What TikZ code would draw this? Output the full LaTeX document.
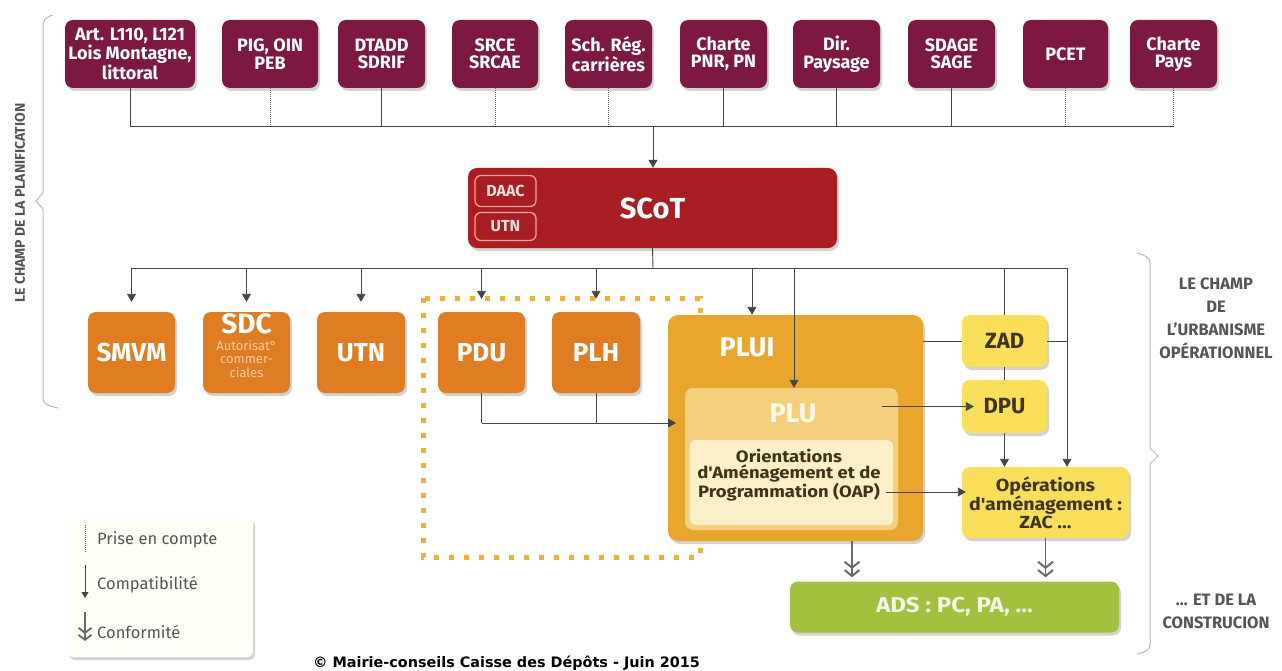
\documentclass[tikz,border=0pt]{standalone}
\usepackage{fontspec}
\setmainfont{Fira Sans}
\newfontfamily\wide[FakeStretch=1.12]{Fira Sans}
\newfontfamily\copyfont{DejaVu Sans}
\usetikzlibrary{arrows.meta,shadows,calc}
\definecolor{maroonb}{HTML}{7D1842}
\definecolor{scotc}{HTML}{A81E22}
\definecolor{orng}{HTML}{E07C22}
\definecolor{pluic}{HTML}{E8A72C}
\definecolor{pluc}{HTML}{F4CF7E}
\definecolor{oapc}{HTML}{FCF0C8}
\definecolor{yel}{HTML}{FADF5A}
\definecolor{adsc}{HTML}{A3C13E}
\definecolor{dotc}{HTML}{E8B338}
\definecolor{lin}{HTML}{454545}
\definecolor{txtg}{HTML}{555555}
\definecolor{darkt}{HTML}{3E3418}
\definecolor{pinkl}{HTML}{F2A49C}
\definecolor{sdcs}{HTML}{F9CFA6}
\tikzset{
  shad/.style={drop shadow={opacity=0.35,shadow xshift=2pt,shadow yshift=-3pt}},
  topbox/.style={shad, fill=maroonb, rounded corners=8pt, inner sep=0pt, align=center,
     text=white, minimum height=68pt, font=\bfseries\fontsize{18}{17.5}\selectfont},
  obox/.style={shad, fill=orng, rounded corners=8pt, inner sep=0pt, align=center,
     text=white, minimum height=81pt, font=\bfseries\fontsize{26}{26}\selectfont},
  ybox/.style={shad, fill=yel, rounded corners=8pt, inner sep=0pt, align=center,
     text=darkt, font=\bfseries\fontsize{22}{22}\selectfont},
  lbl/.style={inner sep=0pt, align=center},
  line/.style={draw=lin, line width=0.9pt},
  pec/.style={draw=lin!80, line width=0.9pt, dash pattern=on 1pt off 1pt},
  comp/.style={draw=lin, line width=0.9pt, -{Triangle[length=8pt,width=9pt]}},
  conf/.style={draw=lin!80, line width=1.4pt, -{Straight Barb[length=6pt,width=15pt,line width=2pt] Straight Barb[length=6pt,width=15pt,line width=2pt]}},
}
\begin{document}
\begin{tikzpicture}[x=1pt,y=-1pt]
\useasboundingbox (0,0) rectangle (1282,671);
\fill[white] (0,0) rectangle (1282,671);

% brackets
\draw[gray!55, line width=1pt] (53,15) .. controls (46,17) and (43,20) .. (43,26) -- (43,193) -- (36,201) -- (43,209) -- (43,398) .. controls (43,404) and (48,406) .. (58,408);
\draw[gray!55, line width=1pt] (1137,253) .. controls (1144,255) and (1150,257) .. (1150,263) -- (1150,448) -- (1158,456) -- (1150,464) -- (1150,645) .. controls (1150,650) and (1145,652) .. (1137,654);
\node[lbl, rotate=90, text=txtg, font=\bfseries\fontsize{14}{14}\selectfont] (lchamp) at (20,203) {LE CHAMP DE LA PLANIFICATION};
\node[lbl, text=txtg, font=\bfseries\fontsize{16.5}{23}\selectfont] (rchamp) at (1216,318) {LE CHAMP\\DE\\L'URBANISME\\OPÉRATIONNEL};
\node[lbl, text=txtg, font=\bfseries\fontsize{16.5}{23}\selectfont] (rconst) at (1216,611) {... ET DE LA\\CONSTRUCION};

% top row
\node[topbox, minimum width=130pt] (t1) at (130,54) {Art. L110, L121\\Lois Montagne,\\littoral};
\node[topbox, minimum width=96pt] (t2) at (270,54) {PIG, OIN\\PEB};
\node[topbox, minimum width=87pt] (t3) at (381.5,54) {DTADD\\SDRIF};
\node[topbox, minimum width=86pt] (t4) at (495,54) {SRCE\\SRCAE};
\node[topbox, minimum width=87pt] (t5) at (608.5,54) {Sch. Rég.\\carrières};
\node[topbox, minimum width=87pt] (t6) at (723.5,54) {Charte\\PNR, PN};
\node[topbox, minimum width=87pt] (t7) at (836.5,54) {Dir.\\Paysage};
\node[topbox, minimum width=87pt] (t8) at (951.5,54) {SDAGE\\SAGE};
\node[topbox, minimum width=85pt] (t9) at (1065.5,54) {PCET};
\node[topbox, minimum width=87pt] (t10) at (1173.5,54) {Charte\\Pays};

\coordinate (bus1) at (653,126);
\draw[line] (t1.south) -- (t1.south |- bus1) -- (t10.south |- bus1);
\draw[pec] (t2.south) -- (t2.south |- bus1);
\draw[line] (t3.south) -- (t3.south |- bus1);
\draw[pec] (t4.south) -- (t4.south |- bus1);
\draw[pec] (t5.south) -- (t5.south |- bus1);
\draw[line] (t6.south) -- (t6.south |- bus1);
\draw[line] (t7.south) -- (t7.south |- bus1);
\draw[line] (t8.south) -- (t8.south |- bus1);
\draw[pec] (t9.south) -- (t9.south |- bus1);
\draw[pec] (t10.south) -- (t10.south |- bus1);

% SCoT
\node[shad, fill=scotc, rounded corners=9pt, minimum width=369pt, minimum height=80pt, inner sep=0pt,
  text=white, font=\bfseries\fontsize{29}{29}\selectfont] (scot) at (652.5,208) {SCoT};
\draw[comp] (bus1) -- (bus1 |- scot.north);
\node[draw=pinkl, line width=1.3pt, rounded corners=6pt, minimum width=61pt, minimum height=31pt, inner sep=0pt,
  text=pinkl!35!white, font=\bfseries\fontsize{16}{16}\selectfont] (daac) at (505.5,191) {DAAC};
\node[draw=pinkl, line width=1.3pt, rounded corners=6pt, minimum width=61pt, minimum height=28pt, inner sep=0pt,
  text=pinkl!35!white, font=\bfseries\fontsize{16}{16}\selectfont] (utnin) at (505.5,226.5) {UTN};

\coordinate (bus2) at (653,268);
\coordinate (rc) at (1067,268);

% dotted frame
\draw[dotc, line width=5pt, dash pattern=on 5pt off 10pt] (423,298) rectangle (700,557);

% orange row
\node[obox, minimum width=87pt] (smvm) at (131.5,352.5) {SMVM};
\node[obox, minimum width=87pt] (sdc) at (246.5,352.5) {};
\node[lbl, text=white, font=\bfseries\fontsize{28}{28}\selectfont] (sdct) at (246.5,324) {SDC};
\node[lbl, text=sdcs, font=\fontsize{13}{13.5}\selectfont] (sdcsub) at (246.5,359) {Autorisat°\\commer-\\ciales};
\node[obox, minimum width=88pt] (utn) at (361,352.5) {UTN};
\node[obox, minimum width=87pt] (pdu) at (481.5,352.5) {PDU};
\node[obox, minimum width=88pt] (plh) at (596,352.5) {PLH};

% PLUI group
\node[shad, fill=pluic, rounded corners=10pt, minimum width=255pt, minimum height=226pt, inner sep=0pt] (plui) at (795.5,428) {};
\node[lbl, text=white, font=\bfseries\fontsize{27}{27}\selectfont] (pluit) at (747,347) {PLUI};
\node[fill=pluc, rounded corners=8pt, minimum width=213pt, minimum height=142pt, inner sep=0pt] (plu) at (791.5,459) {};
\node[lbl, text=white!85!pluc, font=\bfseries\fontsize{27}{27}\selectfont] (plut) at (793,413) {PLU};
\node[fill=oapc, rounded corners=6pt, minimum width=203pt, minimum height=85pt, inner sep=0pt] (oap) at (791.5,482.5) {};
\node[lbl, text=darkt, font=\wide\bfseries\fontsize{16.5}{15.5}\selectfont] (oapt) at (789,475) {Orientations\\d'Aménagement et de\\Programmation (OAP)};

% yellow boxes
\node[ybox, minimum width=85pt, minimum height=52pt] (zad) at (1004.5,341) {ZAD};
\node[ybox, minimum width=85pt, minimum height=53pt] (dpu) at (1004.5,406.5) {DPU};
\node[ybox, minimum width=167pt, minimum height=71pt, font=\wide\bfseries\fontsize{17.5}{14.5}\selectfont] (ops) at (1045.5,502.5) {Opérations\\d'aménagement :\\ZAC ...};
\node[shad, fill=adsc, rounded corners=8pt, minimum width=329pt, minimum height=51pt, inner sep=0pt,
  text=white!88!adsc, font=\wide\bfseries\fontsize{21.5}{21.5}\selectfont] (ads) at (954.5,607) {ADS : PC, PA, ...};

% connectors from SCoT
\draw[line] (scot.south) -- (bus2);
\draw[line] (smvm.north |- bus2) -- (rc);
\draw[comp, shorten >=10pt] (smvm.north |- bus2) -- (smvm.north);
\draw[comp, shorten >=10pt] (sdc.north |- bus2) -- (sdc.north);
\draw[comp, shorten >=10pt] (utn.north |- bus2) -- (utn.north);
\draw[comp, shorten >=13pt] (pdu.north |- bus2) -- (pdu.north);
\draw[comp, shorten >=13pt] (plh.north |- bus2) -- (plh.north);
\coordinate (pluiin) at (752,268);
\coordinate (pluin) at (794,268);
\draw[comp] (pluiin) -- (pluiin |- plui.north);
\draw[comp] (pluin) -- (pluin |- plu.north);
\draw[line] (zad.north |- bus2) -- (zad.north);
\draw[line] (zad.south) -- (dpu.north);
\draw[comp] (dpu.south) -- (dpu.south |- ops.north);
\draw[comp] (rc) -- (rc |- ops.north);
\draw[line] (plui.east |- zad.west) -- (zad.west);
\draw[line] (zad.east) -- (zad.east -| rc);

% PDU / PLH to PLU
\coordinate (joinp) at (676,423);
\draw[line] (pdu.south) -- (pdu.south |- joinp);
\draw[line] (plh.south) -- (plh.south |- joinp);
\draw[comp] (pdu.south |- joinp) -- (joinp);

% PLU -> DPU, OAP -> Opérations
\coordinate (pluout) at (882,406.5);
\draw[comp] (pluout) -- ([xshift=12pt]dpu.west);
\coordinate (oapout) at (886,492);
\draw[comp] (oapout) -- ([xshift=4pt]ops.west |- oapout);

% conformity
\coordinate (dl) at (852,541);
\draw[conf, shorten >=4pt] (dl) -- (dl |- ads.north);
\draw[conf, shorten >=4pt] (ops.south) -- (ops.south |- ads.north);

% legend
\node[shad, fill=white!97!yellow, rounded corners=6pt, minimum width=186pt, minimum height=140pt, inner sep=0pt] (legend) at (160,587) {};
\coordinate (l1a) at (85,525); \coordinate (l1b) at (85,553);
\coordinate (l2a) at (85,565); \coordinate (l2b) at (85,598);
\coordinate (l3a) at (85,612); \coordinate (l3b) at (85,641);
\draw[pec] (l1a) -- (l1b);
\draw[comp, -{Triangle[length=6pt,width=7pt]}] (l2a) -- (l2b);
\draw[conf, line width=1.2pt, -{Straight Barb[length=5pt,width=13pt,line width=1.8pt] Straight Barb[length=5pt,width=13pt,line width=1.8pt]}] (l3a) -- (l3b);
\node[lbl, anchor=west, text=txtg, font=\fontsize{16.5}{16.5}\selectfont] (lt1) at (97,540) {Prise en compte};
\node[lbl, anchor=west, text=txtg, font=\fontsize{16.5}{16.5}\selectfont] (lt2) at (97,585) {Compatibilité};
\node[lbl, anchor=west, text=txtg, font=\fontsize{16.5}{16.5}\selectfont] (lt3) at (97,632) {Conformité};

% copyright
\node[lbl, anchor=west, text=black, font=\copyfont\bfseries\fontsize{14.4}{14.4}\selectfont] (copy) at (313,663) {© Mairie-conseils Caisse des Dépôts - Juin 2015};
\end{tikzpicture}
\end{document}
